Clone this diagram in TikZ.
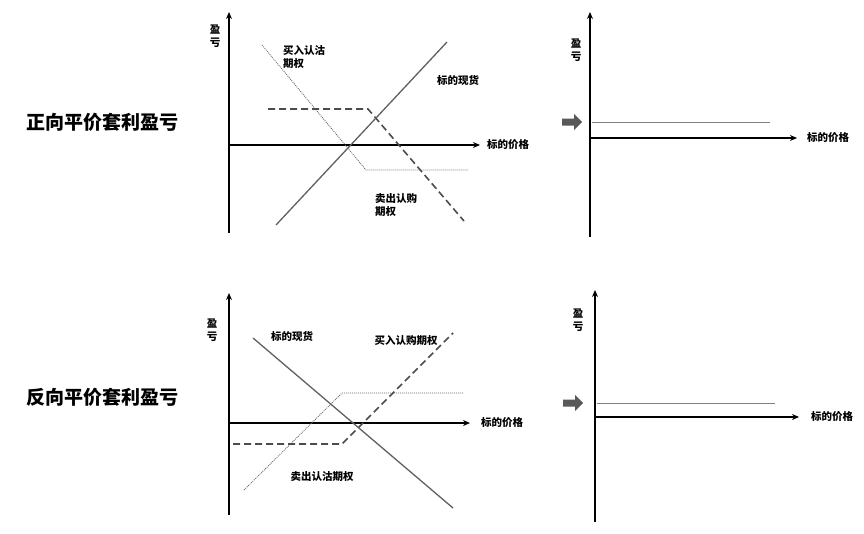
\documentclass[tikz,border=0pt]{standalone}
\usepackage{fontspec}
\newfontfamily\cjk{Noto Sans CJK SC}
\usetikzlibrary{arrows.meta}
\tikzset{
  axis/.style={line width=1.4pt,-{Stealth[length=7pt,width=6pt]}},
  lbl/.style={font=\cjk\bfseries\fontsize{10.5}{13}\selectfont,align=left,inner sep=1pt},
  title/.style={font=\cjk\bfseries\fontsize{19}{21}\selectfont},
  spot/.style={gray!75!black,line width=1.3pt},
  dashline/.style={gray!60!black,line width=1.6pt,dash pattern=on 7pt off 4pt},
  dotline/.style={gray!80!black,line width=0.8pt,dash pattern=on 1pt off 1pt},
  fat/.style={fill=gray!70!black,draw=none}
}
\newcommand{\fatarrow}[2]{\fill[fat] (#1-10,#2-3.5) -- (#1+2,#2-3.5) -- (#1+2,#2-8) -- (#1+10,#2) -- (#1+2,#2+8) -- (#1+2,#2+3.5) -- (#1-10,#2+3.5) -- cycle;}
\begin{document}
\begin{tikzpicture}[x=1pt,y=-1pt]
\useasboundingbox (0,0) rectangle (864,533);
% titles
\node[title] (t1) at (102,122) {正向平价套利盈亏};
\node[title] (t2) at (102,397) {反向平价套利盈亏};

% top left
\draw[axis] (229,233) -- (229,12);
\draw[axis] (229,145) -- (480,145);
\node[lbl] (x1) at (508,145) {标的价格};
\node[lbl] (y1) at (215,36) {盈\\亏};
\draw[dotline] (262,45) -- (366,170) -- (468,170);
\draw[dashline] (268,109) -- (368,109) -- (464,221);
\draw[spot] (276,225) -- (447,42);
\node[lbl] (p1) at (304,57) {买入认沽\\期权};
\node[lbl] (s1) at (458,80) {标的现货};
\node[lbl] (c1) at (396,205) {卖出认购\\期权};

% top right
\draw[axis] (590,237) -- (590,12);
\draw[axis] (590,138) -- (797,138);
\node[lbl] (x2) at (828,138) {标的价格};
\node[lbl] (y2) at (576,50) {盈\\亏};
\draw[gray,line width=1pt] (592,122) -- (770,122);
\fatarrow{572}{122}

% bottom left
\draw[axis] (229,515) -- (229,293);
\draw[axis] (229,423) -- (470,423);
\node[lbl] (x3) at (502,423) {标的价格};
\node[lbl] (y3) at (212,330) {盈\\亏};
\draw[dotline] (244,490) -- (342,393) -- (463,393);
\draw[dashline] (233,444) -- (342,444) -- (453,333);
\draw[spot] (253,338) -- (453,508);
\node[lbl] (s3) at (292,336) {标的现货};
\node[lbl] (c3) at (406,341) {买入认购期权};
\node[lbl] (p3) at (322,477) {卖出认沽期权};

% bottom right
\draw[axis] (595,522) -- (595,290);
\draw[axis] (595,417) -- (799,417);
\node[lbl] (x4) at (832,417) {标的价格};
\node[lbl] (y4) at (578,320) {盈\\亏};
\draw[gray,line width=1pt] (597,403) -- (775,403);
\fatarrow{573}{403}
\end{tikzpicture}
\end{document}
